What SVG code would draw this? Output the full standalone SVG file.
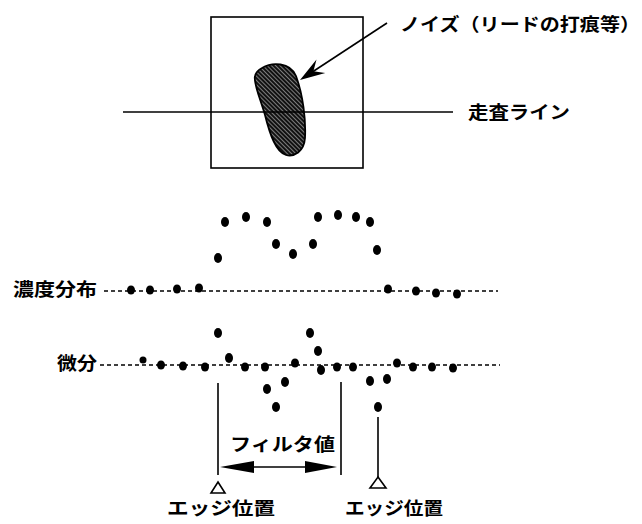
<svg xmlns="http://www.w3.org/2000/svg" width="642" height="524" viewBox="0 0 642 524">
<style>
text{font-family:"Noto Sans CJK JP","Noto Sans CJK SC",sans-serif;font-weight:700;font-size:18px;fill:#000}
.ln{stroke:#000;stroke-width:1.6;fill:none}
.dash{stroke:#000;stroke-width:1.4;stroke-dasharray:4 3;fill:none}
.dot{fill:#000}
.tri{fill:#fff;stroke:#000;stroke-width:1.6}
</style>
<defs>
<pattern id="hatch" width="3" height="3" patternUnits="userSpaceOnUse" patternTransform="rotate(45)">
<rect width="3" height="3" fill="#111"/>
<line x1="0" y1="1.5" x2="3" y2="1.5" stroke="#999" stroke-width="0.8"/>
</pattern>
</defs>
<rect width="642" height="524" fill="#fff"/>
<g id="box">
<rect x="211" y="17" width="152" height="151" class="ln" stroke-width="2"/>
</g>
<g id="noise">
<path d="M262,68 C272,62 290,62 296,76 C303,95 306,120 305,138 C304,152 294,157 286,155 C276,152 270,135 265,115 C260,98 253,82 255,76 C256,72 258,70 262,68 Z" fill="url(#hatch)" stroke="#000" stroke-width="1.8"/>
</g>
<g id="noise-label">
<text x="400" y="31" textLength="240" lengthAdjust="spacingAndGlyphs">ノイズ（リードの打痕等）</text>
</g>
<g id="scan-label">
<text x="468" y="119" textLength="102" lengthAdjust="spacingAndGlyphs">走査ライン</text>
</g>
<g id="connectors">
<line x1="123" y1="112" x2="453" y2="112" class="ln"/>
<line x1="387" y1="23" x2="310" y2="73.5" class="ln" stroke-width="2"/>
<polygon points="300,80 316.5,59.6 313.4,71.2 325.3,73" fill="#000"/>
<line x1="218" y1="383" x2="218" y2="475" class="ln"/>
<line x1="341" y1="382" x2="341" y2="475" class="ln"/>
<line x1="378" y1="417" x2="378" y2="477" class="ln"/>
<line x1="240" y1="467" x2="318" y2="467" class="ln" stroke-width="2"/>
<polygon points="220,467 254,461 254,473" fill="#000"/>
<polygon points="337,467 305,461 305,473" fill="#000"/>
</g>
<g id="density">
<text x="13" y="296" textLength="84" lengthAdjust="spacingAndGlyphs">濃度分布</text>
<line x1="104" y1="291" x2="498" y2="291" class="dash"/>
<ellipse class="dot" cx="131" cy="290" rx="4" ry="4.5"/>
<ellipse class="dot" cx="150" cy="290" rx="4" ry="4.5"/>
<ellipse class="dot" cx="177" cy="289" rx="4" ry="4.5"/>
<ellipse class="dot" cx="199" cy="288" rx="4" ry="4.5"/>
<ellipse class="dot" cx="388" cy="289" rx="4" ry="4.5"/>
<ellipse class="dot" cx="416" cy="291" rx="4" ry="4.5"/>
<ellipse class="dot" cx="436" cy="293" rx="4" ry="4.5"/>
<ellipse class="dot" cx="457" cy="294" rx="4" ry="4.5"/>
<ellipse class="dot" cx="218" cy="258" rx="4" ry="5"/>
<ellipse class="dot" cx="225" cy="222" rx="4" ry="5"/>
<ellipse class="dot" cx="246" cy="217" rx="4" ry="5"/>
<ellipse class="dot" cx="267" cy="222" rx="4" ry="5"/>
<ellipse class="dot" cx="276" cy="244" rx="4" ry="5"/>
<ellipse class="dot" cx="293" cy="254" rx="4" ry="5"/>
<ellipse class="dot" cx="313" cy="244" rx="4" ry="5"/>
<ellipse class="dot" cx="318" cy="217" rx="4" ry="5"/>
<ellipse class="dot" cx="338" cy="215" rx="4" ry="5"/>
<ellipse class="dot" cx="356" cy="217" rx="4" ry="5"/>
<ellipse class="dot" cx="370" cy="222" rx="4" ry="5"/>
<ellipse class="dot" cx="377" cy="250" rx="4" ry="5"/>
</g>
<g id="derivative">
<text x="57" y="370" textLength="40" lengthAdjust="spacingAndGlyphs">微分</text>
<line x1="100" y1="365" x2="500" y2="365" class="dash"/>
<ellipse class="dot" cx="143" cy="360" rx="3.5" ry="3.5"/>
<ellipse class="dot" cx="161" cy="365" rx="4" ry="4.5"/>
<ellipse class="dot" cx="183" cy="366" rx="4" ry="4.5"/>
<ellipse class="dot" cx="205" cy="367" rx="4" ry="4.5"/>
<ellipse class="dot" cx="218" cy="333" rx="4" ry="5"/>
<ellipse class="dot" cx="229" cy="358" rx="4" ry="5"/>
<ellipse class="dot" cx="245" cy="367" rx="4" ry="4.5"/>
<ellipse class="dot" cx="265" cy="367" rx="4" ry="4.5"/>
<ellipse class="dot" cx="267" cy="389" rx="4" ry="5"/>
<ellipse class="dot" cx="285" cy="382" rx="4" ry="5"/>
<ellipse class="dot" cx="276" cy="407" rx="4" ry="5"/>
<ellipse class="dot" cx="295" cy="363" rx="4" ry="4.5"/>
<ellipse class="dot" cx="310" cy="333" rx="4" ry="5"/>
<ellipse class="dot" cx="318" cy="351" rx="4" ry="5"/>
<ellipse class="dot" cx="321" cy="370" rx="4" ry="5"/>
<ellipse class="dot" cx="337" cy="367" rx="4" ry="4.5"/>
<ellipse class="dot" cx="353" cy="367" rx="4" ry="4.5"/>
<ellipse class="dot" cx="370" cy="381" rx="4" ry="5"/>
<ellipse class="dot" cx="387" cy="379" rx="4" ry="5"/>
<ellipse class="dot" cx="378" cy="407" rx="4" ry="5"/>
<ellipse class="dot" cx="397" cy="363" rx="4" ry="4.5"/>
<ellipse class="dot" cx="413" cy="367" rx="4" ry="4.5"/>
<ellipse class="dot" cx="432" cy="367" rx="4" ry="4.5"/>
<ellipse class="dot" cx="453" cy="368" rx="4" ry="4.5"/>
</g>
<g id="filter-label">
<text x="230" y="451" textLength="105" lengthAdjust="spacingAndGlyphs">フィルタ値</text>
</g>
<g id="edge-left">
<polygon class="tri" points="218,482 225,493 211,493"/>
<text x="167" y="515" textLength="108" lengthAdjust="spacingAndGlyphs">エッジ位置</text>
</g>
<g id="edge-right">
<polygon class="tri" points="378,477 386,488 370,488"/>
<text x="345" y="515" textLength="98" lengthAdjust="spacingAndGlyphs">エッジ位置</text>
</g>
</svg>
